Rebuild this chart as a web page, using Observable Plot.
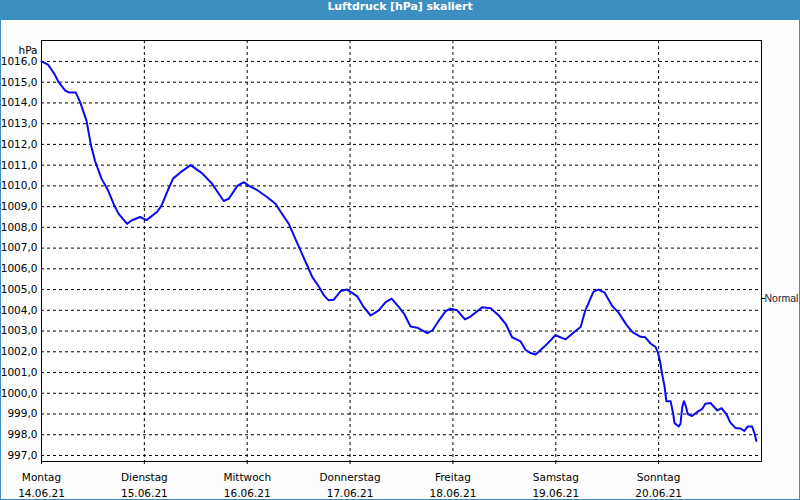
<!DOCTYPE html>
<html>
<head>
<meta charset="utf-8">
<script src="https://cdn.jsdelivr.net/npm/d3@7"></script>
<script src="https://cdn.jsdelivr.net/npm/@observablehq/plot@0.6"></script>
<style>
  html, body { margin: 0; padding: 0; background: #ffffff; }
  #wrap { width: 800px; height: 500px; box-sizing: border-box; border-left: 1px solid #3d8fc1; border-right: 1px solid #3d8fc1; border-bottom: 1px solid #3d8fc1; position: relative; overflow: hidden; background: #fcfdfc; }
  #title { height: 20px; line-height: 20px; background: #3d8fc1; color: #ffffff; font: bold 11px "DejaVu Sans", sans-serif; text-align: center; letter-spacing: -0.1px; }
</style>
</head>
<body>
<div id="wrap"><div id="title">Luftdruck [hPa] skaliert</div><div id="chart"></div></div>
<script>
// Hours since Monday 14.06.21 00:00 and air pressure (hPa)
const hours = [0, 1.5, 3, 4, 5.5, 6.5, 8, 9, 10.5, 11.5, 12.5, 14, 15.5, 17, 18, 20, 21, 23, 24.5, 27, 28, 29.5, 30.7, 32.4, 34.8, 37.5, 39.8, 42.5, 43.7, 45.7, 47.2, 48.4, 50.3, 52.7, 54.6, 55.8, 57.7, 58.9, 60.4, 62, 63.2, 64.7, 65.9, 67, 68.2, 69.8, 71.3, 73.7, 75.2, 76.8, 78.7, 80.3, 81.7, 83.4, 84.7, 86.1, 87.7, 90, 91.2, 92.7, 94.3, 95.4, 97, 98.8, 100.1, 101.7, 102.8, 104.8, 106.7, 108.3, 109.8, 111.8, 112.9, 114.1, 115.3, 117.6, 119.9, 122.3, 124.6, 125.8, 126.9, 128.8, 130, 131.4, 133.2, 134.6, 136.5, 137.9, 139.8, 140.9, 142.1, 143.3, 143.8, 144.3, 144.8, 145.4, 145.8, 146.8, 147.4, 147.7, 148.7, 149.1, 149.5, 149.9, 150.3, 150.8, 151.8, 153, 154.2, 154.9, 156.1, 157.7, 158.7, 159.8, 160.7, 161.9, 163.1, 164, 164.8, 165.8, 166.4, 166.8];
const pressure = [1016.0, 1015.85, 1015.4, 1015.0, 1014.6, 1014.5, 1014.5, 1014.05, 1013.15, 1012.0, 1011.2, 1010.35, 1009.8, 1009.05, 1008.65, 1008.17, 1008.33, 1008.5, 1008.35, 1008.75, 1009.05, 1009.8, 1010.35, 1010.65, 1011.0, 1010.6, 1010.1, 1009.27, 1009.38, 1010.0, 1010.18, 1010.0, 1009.8, 1009.45, 1009.14, 1008.75, 1008.17, 1007.6, 1006.9, 1006.16, 1005.6, 1005.15, 1004.72, 1004.48, 1004.51, 1004.93, 1005.0, 1004.67, 1004.15, 1003.75, 1004.0, 1004.4, 1004.56, 1004.15, 1003.8, 1003.22, 1003.16, 1002.9, 1003.03, 1003.5, 1003.96, 1004.08, 1004.0, 1003.56, 1003.7, 1003.96, 1004.15, 1004.1, 1003.75, 1003.35, 1002.7, 1002.5, 1002.1, 1001.94, 1001.87, 1002.3, 1002.8, 1002.6, 1003.0, 1003.2, 1004.0, 1004.9, 1005.0, 1004.85, 1004.2, 1003.9, 1003.3, 1002.95, 1002.72, 1002.7, 1002.4, 1002.23, 1001.98, 1001.58, 1000.94, 1000.3, 999.62, 999.62, 999.0, 998.56, 998.4, 998.53, 999.33, 999.62, 999.41, 999.0, 998.9, 999.1, 999.25, 999.5, 999.53, 999.17, 999.28, 999.0, 998.6, 998.33, 998.3, 998.18, 998.4, 998.4, 998.05, 997.7];

const dayNames = ["Montag", "Dienstag", "Mittwoch", "Donnerstag", "Freitag", "Samstag", "Sonntag"];
const dateLabels = ["14.06.21", "15.06.21", "16.06.21", "17.06.21", "18.06.21", "19.06.21", "20.06.21"];
const yTicks = [997, 998, 999, 1000, 1001, 1002, 1003, 1004, 1005, 1006, 1007, 1008, 1009, 1010, 1011, 1012, 1013, 1014, 1015, 1016];
const yDomain = [996.71, 1017.01];
const normalLevel = [1004.57];
const normalLabel = "Normal";
const unitLabel = "hPa";

const start = Date.UTC(2021, 5, 14);
const data = hours.map((h, i) => ({t: new Date(start + h * 3600e3), p: pressure[i]}));
const dayDates = d3.range(8).map(i => new Date(start + i * 24 * 3600e3));
const labelDates = dayDates.slice(0, 7);
const innerDays = dayDates.slice(1, 7);

const font = "DejaVu Sans, sans-serif";

const chart = Plot.plot({
  width: 798,
  height: 479,
  marginTop: 20,
  marginBottom: 38,
  marginLeft: 40,
  marginRight: 38,
  style: {fontFamily: font, fontSize: "10.5px", color: "#000", background: "#fcfdfc", overflow: "visible"},
  x: {type: "utc", domain: [dayDates[0], dayDates[7]]},
  y: {domain: yDomain},
  marks: [
    Plot.rect([0], {x1: () => dayDates[0], x2: () => dayDates[7], y1: () => yDomain[0], y2: () => yDomain[1], fill: "#ffffff"}),
    Plot.ruleY(yTicks, {stroke: "#000", strokeWidth: 1, strokeDasharray: "3,3", strokeOpacity: 1}),
    Plot.ruleX(innerDays, {stroke: "#000", strokeWidth: 1, strokeDasharray: "3,3", strokeOpacity: 1}),
    Plot.axisY({ticks: yTicks, tickSize: 0, tickPadding: 4, tickFormat: d => d.toFixed(1).replace(".", ","), label: null, fontSize: 10.5, fill: "#000"}),
    Plot.axisY({anchor: "right", ticks: normalLevel, tickSize: 3, tickPadding: 0, tickFormat: () => normalLabel, label: null, fontSize: 10.5, fontFamily: "Liberation Sans, sans-serif", fill: "#1a1a3a", stroke: "#000"}),
    Plot.axisX({ticks: labelDates, tickSize: 3, tickPadding: 6, tickFormat: (d, i) => dayNames[i] + "\n" + dateLabels[i], label: null, fontSize: 10.5, lineHeight: 1.45, fill: "#000", strokeOpacity: 1}),
    Plot.text([unitLabel], {frameAnchor: "top-left", dx: -4, dy: 6, textAnchor: "end", fontSize: 10.5, fill: "#000"}),
    Plot.frame({stroke: "#000", strokeWidth: 1}),
    Plot.line(data, {x: "t", y: "p", stroke: "#0a0af0", strokeWidth: 2, curve: "linear"})
  ]
});
document.getElementById("chart").appendChild(chart);
</script>
</body>
</html>
